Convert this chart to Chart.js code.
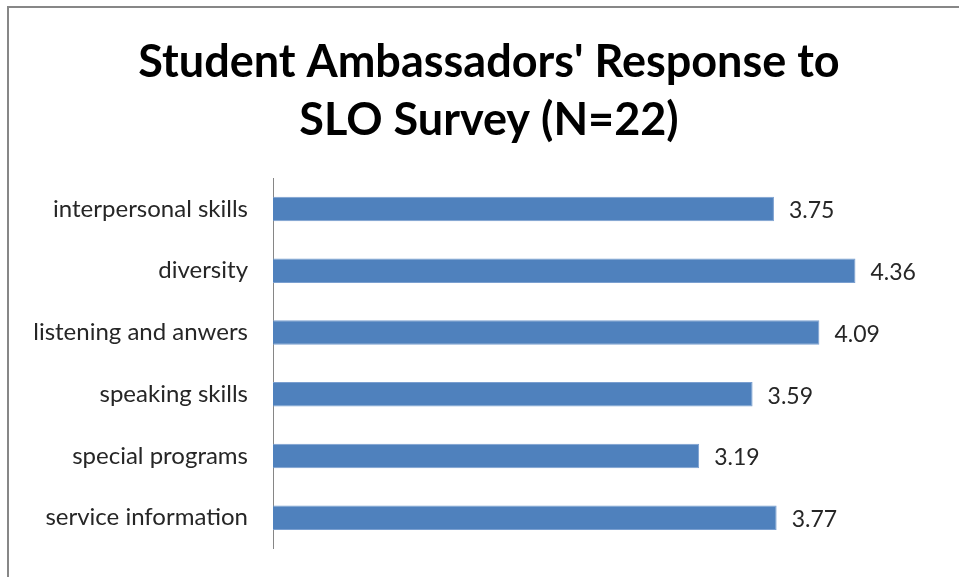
<!DOCTYPE html>
<html>
<head>
<meta charset="utf-8">
<script src="https://cdn.jsdelivr.net/npm/chart.js@4"></script>
<style>
  html, body { margin: 0; padding: 0; overflow: hidden; background: #fff; }
  #cadre { position: absolute; left: 7px; top: 6px; width: 960px; height: 580px; border: 2px solid #878787; }
  #grafico { display: block; }
</style>
</head>
<body>
<div id="cadre"><canvas id="grafico" width="960" height="580"></canvas></div>
<script>
const categorias = ['interpersonal skills', 'diversity', 'listening and anwers', 'speaking skills', 'special programs', 'service information'];
const valores = [3.75, 4.36, 4.09, 3.59, 3.19, 3.77];
const titulo = ["Student Ambassadors' Response to", 'SLO Survey (N=22)'];

const rotulosValor = {
  id: 'rotulosValor',
  afterDatasetsDraw(chart) {
    const ctx = chart.ctx;
    const meta = chart.getDatasetMeta(0);
    ctx.save();
    ctx.font = '23px Lato';
    ctx.fillStyle = '#262626';
    ctx.textBaseline = 'middle';
    meta.data.forEach((bar, i) => {
      ctx.fillText(valores[i].toFixed(2), bar.x + 15, bar.y + 2);
    });
    ctx.restore();
  }
};

window.addEventListener('load', () => {
  const ctx = document.getElementById('grafico').getContext('2d');
  new Chart(ctx, {
    type: 'bar',
    data: {
      labels: categorias,
      datasets: [{
        data: valores,
        backgroundColor: '#4F81BD',
        borderColor: '#7a9fd0',
        borderWidth: 1,
        barPercentage: 0.4,
        categoryPercentage: 1
      }]
    },
    options: {
      indexAxis: 'y',
      responsive: false,
      animation: false,
      layout: { padding: { left: 0, right: 0, top: 0, bottom: 33 } },
      plugins: {
        legend: { display: false },
        tooltip: { enabled: false },
        title: {
          display: true,
          text: titulo,
          color: '#000',
          font: { family: 'Lato', size: 45, weight: 'bold', lineHeight: 1.29 },
          padding: { top: 25, bottom: 29 }
        }
      },
      scales: {
        x: { display: false, min: 0, max: 5.21 },
        y: {
          grid: { display: false, drawTicks: false },
          border: { display: true, color: '#868686', width: 1 },
          ticks: { color: '#262626', font: { family: 'Lato', size: 24 }, padding: 25 },
          afterFit(scale) { scale.width = 264; }
        }
      }
    },
    plugins: [rotulosValor]
  });
});
</script>
</body>
</html>
